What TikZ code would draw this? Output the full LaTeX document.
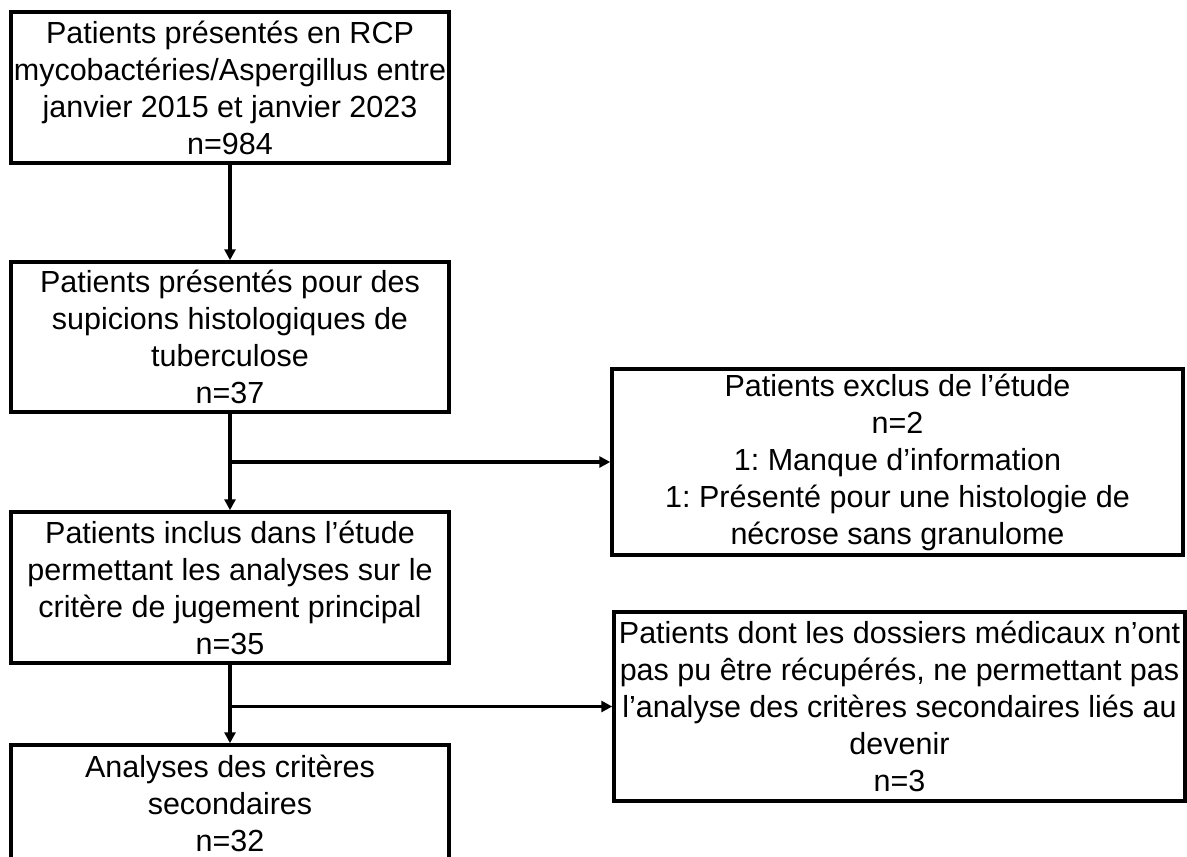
\documentclass[tikz,border=0pt]{standalone}
\usepackage{fontspec}
\setmainfont{Liberation Sans}
\usetikzlibrary{arrows.meta}
\frenchspacing
\begin{document}
\begin{tikzpicture}[x=1pt,y=-1pt,
  box/.style={draw, line width=3.5pt, align=center, inner sep=0pt,
    font=\fontsize{30.5}{37}\selectfont},
  arr/.style={line width=3.5pt, -{Triangle[length=11pt,width=11pt]}}]
\useasboundingbox (0,0) rectangle (1187,857);
\clip (0,0) rectangle (1187,857);
\fill[white] (0,0) rectangle (1187,857);
\node[box, minimum width=438pt, minimum height=151pt] (b1) at (230,87.5)
  {Patients présentés en RCP\\mycobactéries/Aspergillus entre\\janvier 2015 et janvier 2023\\n=984};
\node[box, minimum width=438pt, minimum height=150pt] (b2) at (230,337)
  {Patients présentés pour des\\supicions histologiques de\\tuberculose\\n=37};
\node[box, minimum width=571pt, minimum height=186pt] (b3) at (897.5,462)
  {Patients exclus de l’étude\\n=2\\1: Manque d’information\\1: Présenté pour une histologie de\\nécrose sans granulome};
\node[box, minimum width=438pt, minimum height=151pt] (b4) at (230,587.5)
  {Patients inclus dans l’étude\\permettant les analyses sur le\\critère de jugement principal\\n=35};
\node[box, minimum width=571pt, minimum height=189pt] (b5) at (899.5,706.5)
  {Patients dont les dossiers médicaux n’ont\\pas pu être récupérés, ne permettant pas\\l’analyse des critères secondaires liés au\\devenir\\n=3};
\node[box, minimum width=438pt, minimum height=116pt] (b6) at (230,803)
  {Analyses des critères\\secondaires\\n=32};
\draw[arr] (b1.south) -- (b2.north);
\draw[arr] (b2.south) -- (b4.north);
\draw[arr] (b2.south |- b3.west) -- (b3.west);
\draw[arr] (b4.south) -- (b6.north);
\draw[arr] (b4.south |- b5.west) -- (b5.west);
\end{tikzpicture}
\end{document}
